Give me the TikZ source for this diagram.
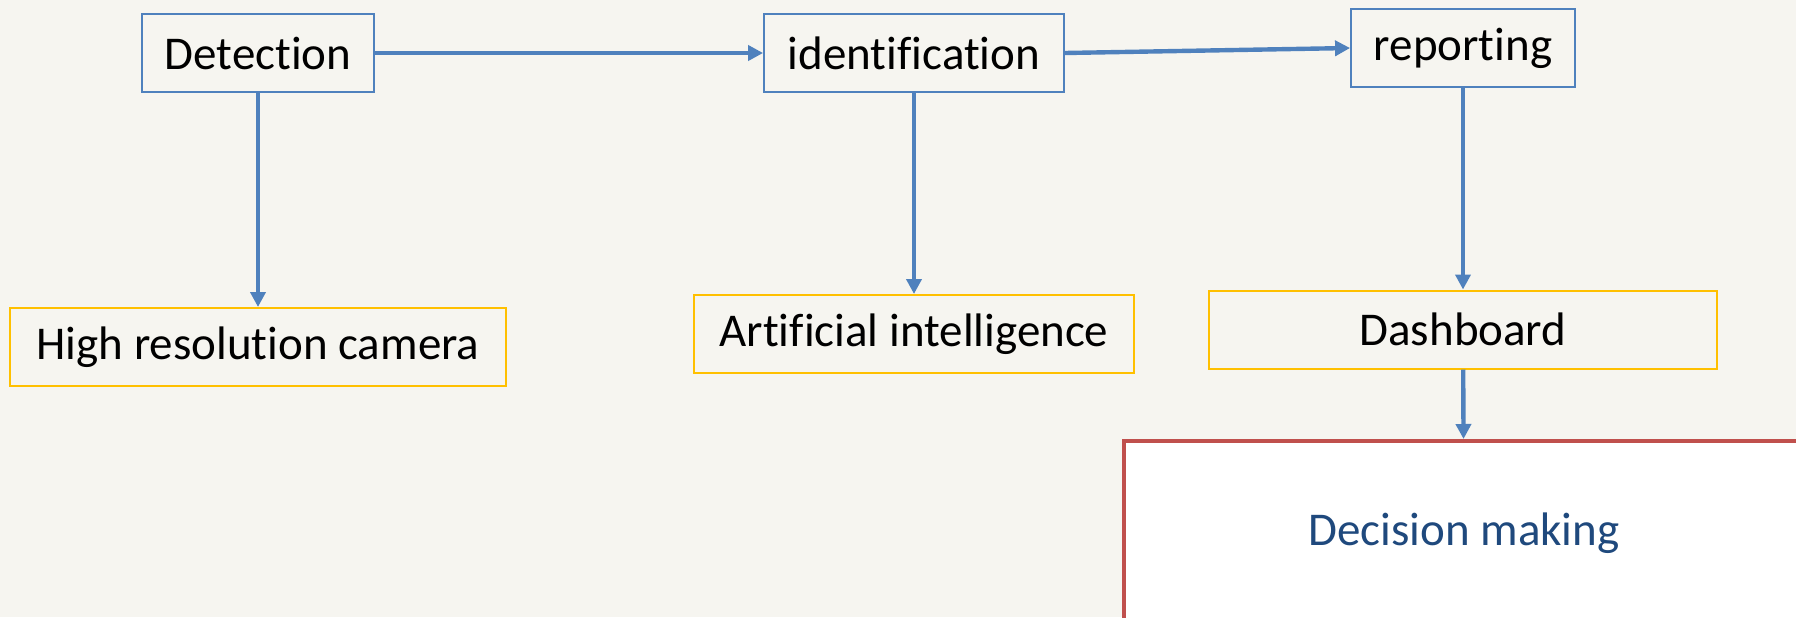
\documentclass[tikz,border=0pt]{standalone}
\usepackage{fontspec}
\setmainfont{Carlito}[Ligatures=NoCommon]
\usetikzlibrary{arrows.meta,positioning}
\definecolor{flowblue}{HTML}{4F81BD}
\definecolor{toolyellow}{HTML}{FFC000}
\definecolor{decred}{HTML}{C0504D}
\definecolor{decblue}{HTML}{1F497D}
\definecolor{paper}{HTML}{F6F5F0}

\begin{document}
\begin{tikzpicture}[x=0.5pt,y=-0.5pt,
    flow/.style={-{Triangle[length=7.5pt,width=7.5pt]},line width=2.2pt,draw=flowblue},
    stage/.style={draw=flowblue,line width=0.9pt,minimum height=39pt,inner sep=0pt,
      font=\fontsize{23.5}{28}\selectfont},
    tool/.style={draw=toolyellow,line width=1pt,minimum height=39pt,inner sep=0pt,
      font=\fontsize{23.5}{28}\selectfont}]
    \clip (0,0) rectangle (1796,617);
    \fill[paper] (0,0) rectangle (1796,617);

    % top row
    \node[stage,minimum width=116pt] (det) at (258,53) {Detection};
    \node[stage,minimum width=150pt] (ident) at (914,53) {identification};
    \node[stage,minimum width=112pt] (rep) at (1463,48) {reporting};

    % bottom row
    \node[tool,minimum width=248pt] (cam) at (258,347) {High resolution camera};
    \node[tool,minimum width=220pt] (ai) at (914,334) {Artificial intelligence};
    \node[tool,minimum width=254pt] (dash) at (1463,329.5) {Dashboard};
    \node[draw=decred,fill=white,line width=2pt,minimum width=340pt,minimum height=92pt,
      inner sep=0pt,text=decblue,font=\fontsize{23.5}{28}\selectfont] (dec) at (1464,533) {Decision making};

    \draw[flow] (det) -- (ident);
    \draw[flow] (ident.east) -- (rep.west);
    \draw[flow] (det) -- (cam);
    \draw[flow] (ident) -- (ai);
    \draw[flow] (rep) -- (dash);
    \draw[flow] (dash) -- (dec);
\end{tikzpicture}
\end{document}
